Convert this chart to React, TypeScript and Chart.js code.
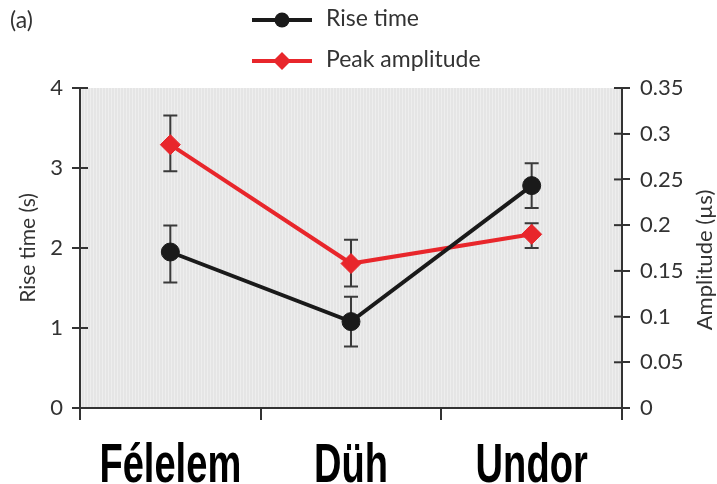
import React, { useEffect, useRef } from "react";
import { Chart, registerables } from "chart.js";
Chart.register(...registerables);

const categories = ["Félelem", "Düh", "Undor"];
const riseTime = [1.95, 1.08, 2.78];
const riseTimeLow = [1.57, 0.77, 2.5];
const riseTimeHigh = [2.28, 1.39, 3.06];
const peakAmplitude = [0.288, 0.158, 0.19];
const peakAmplitudeLow = [0.259, 0.133, 0.175];
const peakAmplitudeHigh = [0.32, 0.184, 0.202];
const leftTicks = [0, 1, 2, 3, 4];
const rightTicks = [0, 0.05, 0.1, 0.15, 0.2, 0.25, 0.3, 0.35];
const seriesNames = ["Rise time", "Peak amplitude"];
const leftTitle = "Rise time (s)";
const rightTitle = "Amplitude (µs)";
const panelLabel = "(a)";

const BLACK = "#1a1a1a";
const RED = "#e8262b";
const AXIS = "#333333";
const TEXT = "#333333";
const TICK_FONT = "Lato, 'Open Sans', sans-serif";
const CAT_FONT = "bold 56px 'Liberation Sans', Arial, sans-serif";

const decorPlugin = {
  id: "decor",
  beforeDraw(chart: any) {
    const { ctx, chartArea: a } = chart;
    ctx.save();
    ctx.fillStyle = "#e5e5e5";
    ctx.fillRect(a.left, a.top, a.right - a.left, a.bottom - a.top);
    ctx.fillStyle = "rgba(255,255,255,0.35)";
    for (let x = a.left + 1; x < a.right; x += 3) ctx.fillRect(x, a.top, 1, a.bottom - a.top);
    ctx.restore();
  },
  beforeDatasetsDraw(chart: any) {
    const { ctx } = chart;
    const xs = chart.scales.x;
    const sets = [
      { scale: chart.scales.y, lo: riseTimeLow, hi: riseTimeHigh },
      { scale: chart.scales.y1, lo: peakAmplitudeLow, hi: peakAmplitudeHigh },
    ];
    ctx.save();
    ctx.strokeStyle = "#3a3a3a";
    ctx.lineWidth = 2;
    sets.forEach((s) => {
      s.lo.forEach((lo, i) => {
        const x = xs.getPixelForValue(i);
        const y1 = s.scale.getPixelForValue(lo);
        const y2 = s.scale.getPixelForValue(s.hi[i]);
        ctx.beginPath();
        ctx.moveTo(x, y1);
        ctx.lineTo(x, y2);
        ctx.moveTo(x - 7, y1);
        ctx.lineTo(x + 7, y1);
        ctx.moveTo(x - 7, y2);
        ctx.lineTo(x + 7, y2);
        ctx.stroke();
      });
    });
    ctx.restore();
  },
  afterDraw(chart: any) {
    const { ctx } = chart;
    const xs = chart.scales.x;
    const yl = chart.scales.y;
    const yr = chart.scales.y1;
    ctx.save();
    ctx.strokeStyle = AXIS;
    ctx.lineWidth = 2;
    yl.ticks.forEach((t: any) => {
      const y = yl.getPixelForValue(t.value);
      ctx.beginPath();
      ctx.moveTo(yl.right, y);
      ctx.lineTo(yl.right + 8, y);
      ctx.stroke();
    });
    yr.ticks.forEach((t: any) => {
      const y = yr.getPixelForValue(t.value);
      ctx.beginPath();
      ctx.moveTo(yr.left - 8, y);
      ctx.lineTo(yr.left, y);
      ctx.stroke();
    });
    // category labels (condensed bold)
    categories.forEach((c, i) => {
      const x = xs.getPixelForValue(i);
      ctx.save();
      ctx.translate(x, 482);
      ctx.scale(0.68, 1);
      ctx.fillStyle = "#000";
      ctx.font = CAT_FONT;
      ctx.textAlign = "center";
      ctx.textBaseline = "alphabetic";
      ctx.fillText(c, 0, 0);
      ctx.restore();
    });
    ctx.fillStyle = TEXT;
    ctx.font = `23px ${TICK_FONT}`;
    ctx.textAlign = "left";
    ctx.textBaseline = "middle";
    ctx.fillText(panelLabel, 10, 21);
    const rows = [
      { y: 20, color: BLACK, shape: "circle", name: seriesNames[0] },
      { y: 61, color: RED, shape: "diamond", name: seriesNames[1] },
    ];
    rows.forEach((r) => {
      ctx.strokeStyle = r.color;
      ctx.fillStyle = r.color;
      ctx.lineWidth = 4;
      ctx.beginPath();
      ctx.moveTo(252, r.y);
      ctx.lineTo(312, r.y);
      ctx.stroke();
      ctx.beginPath();
      if (r.shape === "circle") {
        ctx.arc(282, r.y, 7.5, 0, Math.PI * 2);
      } else {
        ctx.moveTo(282, r.y - 9);
        ctx.lineTo(291, r.y);
        ctx.lineTo(282, r.y + 9);
        ctx.lineTo(273, r.y);
        ctx.closePath();
      }
      ctx.fill();
      ctx.fillStyle = TEXT;
      ctx.font = `23px ${TICK_FONT}`;
      ctx.textAlign = "left";
      ctx.textBaseline = "middle";
      ctx.fillText(r.name, 326, r.y - 1);
    });
    ctx.translate(705, (chart.chartArea.top + chart.chartArea.bottom) / 2 + 12);
    ctx.rotate(-Math.PI / 2);
    ctx.fillStyle = TEXT;
    ctx.font = `22px ${TICK_FONT}`;
    ctx.textAlign = "center";
    ctx.textBaseline = "middle";
    ctx.fillText(rightTitle, 0, 0);
    ctx.restore();
  },
};

export default function App() {
  const ref = useRef<HTMLCanvasElement | null>(null);
  useEffect(() => {
    if (!ref.current) return;
    const chart = new Chart(ref.current, {
      type: "line",
      data: {
        labels: categories,
        datasets: [
          {
            label: seriesNames[0],
            data: riseTime,
            yAxisID: "y",
            borderColor: BLACK,
            backgroundColor: BLACK,
            borderWidth: 4,
            pointStyle: "circle",
            pointRadius: 9,
            pointBorderWidth: 1,
          },
          {
            label: seriesNames[1],
            data: peakAmplitude,
            yAxisID: "y1",
            borderColor: RED,
            backgroundColor: RED,
            borderWidth: 4,
            pointStyle: "rectRot",
            pointRadius: 10,
            pointBorderWidth: 1,
          },
        ],
      },
      options: {
        animation: false,
        responsive: false,
        maintainAspectRatio: false,
        layout: { padding: { top: 88, left: 0, right: 0, bottom: 0 } },
        plugins: { legend: { display: false }, tooltip: { enabled: false } },
        scales: {
          x: {
            type: "category",
            offset: true,
            afterFit: (s: any) => {
              s.height = 76;
              s.paddingLeft = 0;
              s.paddingRight = 0;
            },
            grid: {
              offset: true,
              drawOnChartArea: false,
              drawTicks: true,
              tickLength: 12,
              color: AXIS,
              lineWidth: 2,
            },
            border: { display: true, color: AXIS, width: 2 },
            ticks: {
              display: false,
              autoSkip: false,
              maxRotation: 0,
              minRotation: 0,
            },
          },
          y: {
            position: "left",
            min: 0,
            max: 4,
            afterFit: (s: any) => {
              s.width = 80;
            },
            afterBuildTicks: (s: any) => {
              s.ticks = leftTicks.map((v) => ({ value: v }));
            },
            grid: {
              drawOnChartArea: false,
              drawTicks: true,
              tickLength: 8,
              color: AXIS,
              lineWidth: 2,
            },
            border: { display: true, color: AXIS, width: 2 },
            ticks: {
              color: TEXT,
              padding: 9,
              font: { family: TICK_FONT, size: 22 },
              callback: (v: any) => String(v),
            },
            title: {
              display: true,
              text: leftTitle,
              color: TEXT,
              padding: { top: 16, bottom: 0 },
              font: { family: TICK_FONT, size: 21 },
            },
          },
          y1: {
            position: "right",
            min: 0,
            max: 0.35,
            afterFit: (s: any) => {
              s.width = 95;
            },
            afterBuildTicks: (s: any) => {
              s.ticks = rightTicks.map((v) => ({ value: v }));
            },
            grid: {
              drawOnChartArea: false,
              drawTicks: true,
              tickLength: 8,
              color: AXIS,
              lineWidth: 2,
            },
            border: { display: true, color: AXIS, width: 2 },
            ticks: {
              color: TEXT,
              padding: 10,
              font: { family: TICK_FONT, size: 22 },
              callback: (v: any) => String(Number(Number(v).toFixed(2))),
            },
          },
        },
      },
      plugins: [decorPlugin],
    } as any);
    return () => chart.destroy();
  }, []);
  return (
    <div style={{ position: "absolute", left: 0, top: 0, width: 717, height: 484, background: "#fff" }}>
      <canvas ref={ref} width={717} height={484} style={{ width: 717, height: 484, display: "block" }} />
    </div>
  );
}
